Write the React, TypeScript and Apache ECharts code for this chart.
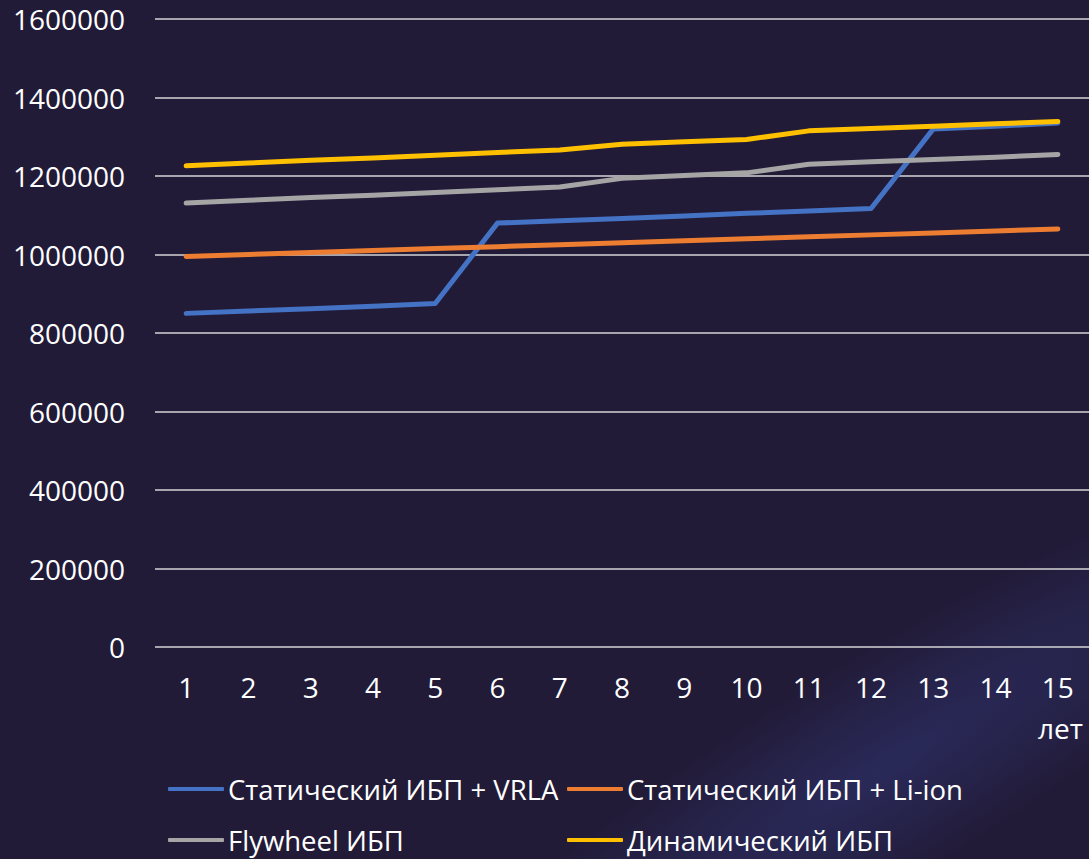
import React, { useEffect, useRef } from "react";
import * as echarts from "echarts";

const years = ["1", "2", "3", "4", "5", "6", "7", "8", "9", "10", "11", "12", "13", "14", "15"];
const vrla = [850000, 856000, 862000, 868000, 875000, 1080000, 1086000, 1092000, 1098000, 1105000, 1111000, 1117000, 1320000, 1327000, 1335000];
const liIon = [995000, 1000000, 1005000, 1010000, 1015000, 1020000, 1025000, 1030000, 1035000, 1040000, 1045000, 1050000, 1055000, 1060000, 1065000];
const flywheel = [1131000, 1138000, 1145000, 1151000, 1158000, 1165000, 1172000, 1194000, 1201000, 1208000, 1230000, 1236000, 1242000, 1248000, 1255000];
const dynamic = [1226000, 1233000, 1240000, 1246000, 1253000, 1260000, 1266000, 1281000, 1287000, 1293000, 1315000, 1321000, 1327000, 1333000, 1339000];
const seriesNames = [
  "Статический ИБП + VRLA",
  "Статический ИБП + Li-ion",
  "Flywheel ИБП",
  "Динамический ИБП",
];
const colors = ["#4472c4", "#ed7d31", "#a5a5a5", "#ffc000"];
const unitLabel = "лет";

const FONT = "'Open Sans', 'Noto Sans', sans-serif";

export default function App() {
  const ref = useRef<HTMLDivElement>(null);
  useEffect(() => {
    if (!ref.current) return;
    const chart = echarts.init(ref.current, undefined, { renderer: "svg" });
    const data = [vrla, liIon, flywheel, dynamic];
    const legendPos = [
      { left: 168, top: 775 },
      { left: 567, top: 775 },
      { left: 168, top: 826 },
      { left: 567, top: 826 },
    ];
    chart.setOption({
      animation: false,
      backgroundColor: "#221b38",
      textStyle: { fontFamily: FONT },
      graphic: [
        {
          type: "ellipse",
          silent: true,
          z: -10,
          x: 880,
          y: 770,
          rotation: 0.55,
          shape: { cx: 0, cy: 0, rx: 560, ry: 110 },
          style: {
            fill: {
              type: "radial",
              x: 0.5,
              y: 0.5,
              r: 0.5,
              colorStops: [
                { offset: 0, color: "rgba(52,62,135,0.42)" },
                { offset: 0.6, color: "rgba(52,62,135,0.18)" },
                { offset: 1, color: "rgba(52,62,135,0)" },
              ],
            },
          },
        },
        {
          type: "text",
          right: 6,
          top: 714,
          style: {
            text: unitLabel,
            fill: "#ffffff",
            font: `28px ${FONT}`,
          },
        },
      ],
      grid: { left: 155, top: 19, width: 940, height: 628 },
      legend: seriesNames.map((name, i) => ({
        orient: "horizontal",
        left: legendPos[i].left,
        top: legendPos[i].top,
        padding: 0,
        itemWidth: 56,
        itemHeight: 4,
        icon: "roundRect",
        data: [name],
        textStyle: { color: "#ffffff", fontSize: 27.5, lineHeight: 28, fontFamily: FONT, padding: [0, 0, 0, -1] },
      })),
      xAxis: {
        type: "category",
        data: years,
        boundaryGap: true,
        axisLine: { show: false },
        axisTick: { show: false },
        axisLabel: { color: "#ffffff", fontSize: 28, fontFamily: FONT, margin: 26 },
      },
      yAxis: {
        type: "value",
        min: 0,
        max: 1600000,
        interval: 200000,
        axisLine: { show: false },
        axisTick: { show: false },
        axisLabel: {
          color: "#ffffff",
          fontSize: 28,
          fontFamily: FONT,
          margin: 30,
          formatter: (v: number) => String(v),
        },
        splitLine: { lineStyle: { color: "#d4d4d4", width: 1.5 } },
      },
      series: seriesNames.map((name, i) => ({
        name,
        type: "line",
        data: data[i],
        symbol: "none",
        color: colors[i],
        lineStyle: { width: 5, cap: "round", join: "round", color: colors[i] },
      })),
    });
    return () => chart.dispose();
  }, []);
  return (
    <div
      ref={ref}
      style={{ position: "fixed", left: 0, top: 0, width: 1089, height: 859 }}
    />
  );
}
